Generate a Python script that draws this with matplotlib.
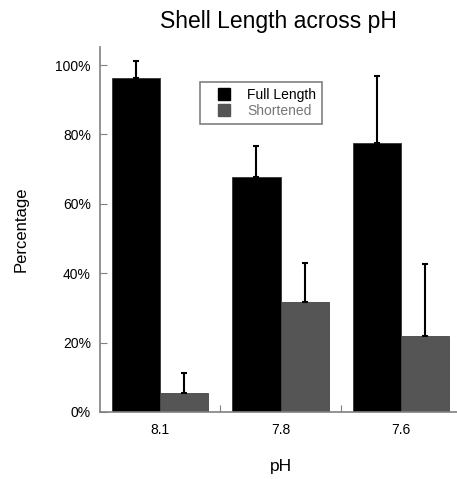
import numpy as np
import matplotlib
matplotlib.use("Agg")
import matplotlib.pyplot as plt
from matplotlib.ticker import PercentFormatter
from matplotlib.lines import Line2D

plt.rcParams['font.family'] = ['Liberation Sans', 'DejaVu Sans']

# data
ph_levels = ['8.1', '7.8', '7.6']
full_length = [96.2, 67.6, 77.6]
full_err = [5.0, 9.1, 19.3]
shortened = [5.4, 31.8, 22.0]
short_err = [5.9, 11.2, 20.6]

fig = plt.figure(figsize=(4.57, 4.79), dpi=100)
ax = fig.add_axes([0.2188, 0.1399, 0.7900, 0.7620])

x = np.arange(len(ph_levels))
w = 0.4
ax.bar(x - w / 2, full_length, w, color='black', edgecolor='#333333', linewidth=0.6)
ax.bar(x + w / 2, shortened, w, color='#555555', edgecolor='#444444', linewidth=0.6)

# upward-only error bars
ax.errorbar(x - w / 2, full_length, yerr=[np.zeros(3), full_err], fmt='none',
            ecolor='black', elinewidth=1.5, capsize=2.5, capthick=1.5)
ax.errorbar(x + w / 2, shortened, yerr=[np.zeros(3), short_err], fmt='none',
            ecolor='black', elinewidth=1.5, capsize=2.5, capthick=1.5)

ax.set_xlim(-0.5, 2.5)
ax.set_ylim(0, 105.2)
ax.set_yticks([0, 20, 40, 60, 80, 100])
ax.yaxis.set_major_formatter(PercentFormatter(decimals=0))

# labels at group centres, small tick marks between groups
ax.set_xticks([0.5, 1.5])
ax.set_xticklabels([])
ax.set_xticks(x, minor=True)
ax.set_xticklabels(ph_levels, minor=True)
ax.tick_params(axis='x', which='minor', length=0, labelsize=10, pad=8)
ax.tick_params(axis='x', which='major', direction='in', length=5, color='#808080')
ax.tick_params(axis='y', direction='in', length=5, color='#808080', labelsize=10, pad=6.5)

for s in ['top', 'right']:
    ax.spines[s].set_visible(False)
for s in ['left', 'bottom']:
    ax.spines[s].set_color('#808080')
    ax.spines[s].set_linewidth(1.2)

ax.set_ylabel('Percentage', fontsize=12, labelpad=19)
ax.set_xlabel('pH', fontsize=12.5, labelpad=16)
fig.text(0.61, 0.956, 'Shell Length across pH', fontsize=16.5, ha='center', va='center')

handles = [Line2D([], [], ls='none', marker='s', markersize=9, color='black'),
           Line2D([], [], ls='none', marker='s', markersize=9, color='#555555')]
leg = ax.legend(handles, ['Full Length', 'Shortened'], loc='upper left',
                bbox_to_anchor=(0.277, 0.905), fontsize=10,
                fancybox=False, edgecolor='#808080', framealpha=1,
                handlelength=2.6, borderpad=0.45,
                labelspacing=0.15, handletextpad=0.35, borderaxespad=0)
leg.get_frame().set_linewidth(1.2)
leg.get_texts()[1].set_color('#777777')

fig.savefig('out.png', dpi=100)
